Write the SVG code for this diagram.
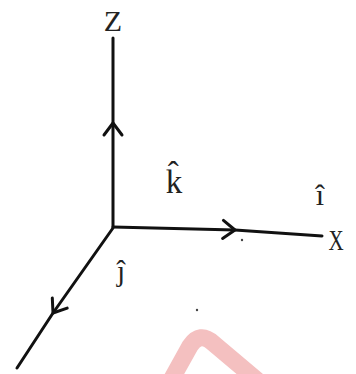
<svg xmlns="http://www.w3.org/2000/svg" width="356" height="374" viewBox="0 0 356 374">
<style>
.ax{fill:none;stroke:#111;stroke-width:3;stroke-linecap:round;stroke-linejoin:round}
.lbl{font-family:"Liberation Serif","DejaVu Serif",serif;font-size:28px;fill:#222;text-anchor:middle}
.speck{fill:#444}
</style>
<defs>
<marker id="arr" viewBox="-16 -12 20 24" refX="0" refY="0" markerWidth="20" markerHeight="24" markerUnits="userSpaceOnUse" orient="auto" overflow="visible">
<path d="M-12,-9 L0,0 L-12,9" fill="none" stroke="#111" stroke-width="3" stroke-linecap="round" stroke-linejoin="round"/>
</marker>
</defs>
<rect width="356" height="374" fill="#fff"/>
<path d="M170,382 L190,346 Q200,331 213,343 L264,386" fill="none" stroke="#f4c0c0" stroke-width="17" stroke-linecap="round" stroke-linejoin="round"/>
<g id="connectors">
<path id="z-axis" class="ax" d="M113,227 L113,123 L113,38" marker-mid="url(#arr)"/>
<path id="x-axis" class="ax" d="M113,227 L235,230 L322,236" marker-mid="url(#arr)"/>
<path id="y-axis" class="ax" d="M113,228 L53,313 L17,368" marker-mid="url(#arr)"/>
</g>
<g id="label-z"><text class="lbl" x="113" y="31" style="font-size:30px">Z</text></g>
<g id="label-k"><text class="lbl" x="174" y="193" style="font-size:33px">k̂</text></g>
<g id="label-i"><text class="lbl" x="320" y="205" style="font-size:30px">î</text></g>
<g id="label-x"><text class="lbl" x="336" y="250" transform="translate(336 0) scale(0.7 1) translate(-336 0)" style="font-size:30px">X</text></g>
<g id="label-j"><text class="lbl" x="121" y="281" style="font-size:29px">ĵ</text></g>
<circle class="speck" cx="242" cy="240" r="1.2"/>
<circle class="speck" cx="197" cy="310" r="1.2"/>
</svg>
